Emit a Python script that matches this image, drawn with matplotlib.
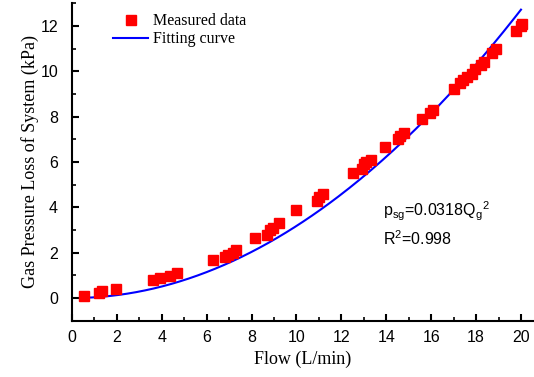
import numpy as np
import matplotlib
matplotlib.use("Agg")
import matplotlib.pyplot as plt
from matplotlib.ticker import MultipleLocator

flow = [0.53, 1.2, 1.33, 1.96, 3.6, 3.9, 4.37, 4.68, 6.3, 6.8, 6.95, 7.15, 7.3,
        8.15, 8.7, 8.8, 8.95, 9.2, 10.0, 10.9, 11.0, 11.2, 12.5, 12.9, 13.0, 13.1, 13.3,
        13.94, 14.5, 14.6, 14.8, 15.6, 15.95, 16.1, 17.0, 17.3, 17.4, 17.6, 17.8,
        17.95, 18.2, 18.35, 18.7, 18.9, 19.8, 20.0, 20.05]
pressure = [0.09, 0.2, 0.3, 0.4, 0.8, 0.9, 0.97, 1.1, 1.68, 1.8, 1.9, 2.0, 2.1,
            2.65, 2.8, 3.0, 3.1, 3.3, 3.9, 4.3, 4.45, 4.6, 5.5, 5.7, 5.9, 6.0, 6.1,
            6.66, 7.0, 7.15, 7.3, 7.9, 8.16, 8.3, 9.2, 9.5, 9.6, 9.75, 9.9,
            10.1, 10.3, 10.4, 10.8, 11.0, 11.8, 12.0, 12.1]
fit_coef = 0.0318
fit_start, fit_end = 0.5, 20.0

fig = plt.figure(figsize=(5.34, 3.77), dpi=100)
ax = fig.add_axes([72/534, (377-320.7)/377, (534-72)/534, (320.7-3.3)/377])

q = np.linspace(fit_start, fit_end, 200)
ax.plot(q, fit_coef * q**2, color='#0000ff', lw=1.5, label='Fitting curve', zorder=2)
ax.plot(flow, pressure, linestyle='none', marker='s', ms=6.5, color='#ff0000',
        mec='#ff0000', label='Measured data', zorder=3)

ax.set_xlim(0, 20.58)
ax.set_ylim(-1, 13)
ax.xaxis.set_major_locator(MultipleLocator(2))
ax.xaxis.set_minor_locator(MultipleLocator(1))
ax.yaxis.set_major_locator(MultipleLocator(2))
ax.yaxis.set_minor_locator(MultipleLocator(1))
for s in ['top', 'right']:
    ax.spines[s].set_visible(False)
for s in ['left', 'bottom']:
    ax.spines[s].set_linewidth(1.5)
ax.tick_params(which='major', direction='in', length=5, width=1.5, labelsize=11.5)
ax.tick_params(which='minor', direction='in', length=3, width=1.2)
ax.tick_params(axis='y', which='major', pad=10)
ax.tick_params(axis='x', which='major', pad=7)
for lab in ax.get_xticklabels() + ax.get_yticklabels():
    lab.set_family('Liberation Sans')

ax.set_xlabel('Flow (L/min)', family='Liberation Serif', fontsize=13, labelpad=4)
ax.set_ylabel('Gas Pressure Loss of System (kPa)', family='Liberation Serif', fontsize=13, labelpad=1)

h, l = ax.get_legend_handles_labels()
leg = ax.legend([h[1], h[0]], [l[1], l[0]], loc='upper left', bbox_to_anchor=(0.075, 0.988),
                frameon=False, prop={'family': 'Liberation Serif', 'size': 11.5},
                handlelength=2.2, handletextpad=0.3, labelspacing=0.1, borderaxespad=0)

ax.text(13.87, 3.6, r'p$_{\mathregular{sg}}$=0.0318Q$_{\mathregular{g}}$$^{\mathregular{2}}$',
        family='Liberation Sans', fontsize=11.5)
ax.text(13.87, 2.32, r'R$^{\mathregular{2}}$=0.998', family='Liberation Sans', fontsize=11.5)

fig.savefig('out.png', dpi=100)
